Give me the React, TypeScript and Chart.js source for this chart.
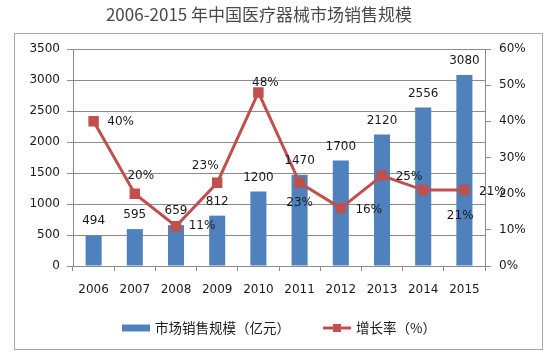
import React, { useEffect, useRef } from "react";
import { Chart, registerables } from "chart.js";

Chart.register(...registerables);

const TITLE = "2006-2015 年中国医疗器械市场销售规模";
const YEARS = ["2006", "2007", "2008", "2009", "2010", "2011", "2012", "2013", "2014", "2015"];
const SALES = [494, 595, 659, 812, 1200, 1470, 1700, 2120, 2556, 3080];
const GROWTH = [40, 20, 11, 23, 48, 23, 16, 25, 21, 21];
const SALES_LABEL = "市场销售规模（亿元）";
const GROWTH_LABEL = "增长率（%）";
const LEFT_MAX = 3500;
const LEFT_STEP = 500;
const RIGHT_MAX = 60;
const RIGHT_STEP = 10;
// label placement relative to each growth point: [dx, dy]
const GROWTH_LABEL_OFFSETS: [number, number][] = [
  [27, 1], [6, -18], [26, 0], [-12, -17], [7, -10],
  [0, 20], [28, 2], [27, 1], [37, 26], [28, 2],
];

const BAR_COLOR = "#4F81BD";
const LINE_COLOR = "#C0504D";
const GRID_COLOR = "#8C8C8C";
const TEXT_COLOR = "#1a1a1a";
const NUM_FONT = "12px 'DejaVu Sans'";
const CJK_FONT = "'Noto Sans CJK SC'";

const decorPlugin = {
  id: "decor",
  beforeDraw(chart: any) {
    const ctx = chart.ctx;
    ctx.save();
    ctx.fillStyle = "#ffffff";
    ctx.fillRect(0, 0, chart.width, chart.height);
    ctx.strokeStyle = "#A6A6A6";
    ctx.lineWidth = 1;
    ctx.strokeRect(14.5, 33.5, 528, 316);
    ctx.fillStyle = "#4a4a4a";
    ctx.font = `400 17px ${CJK_FONT}`;
    ctx.textAlign = "center";
    ctx.textBaseline = "middle";
    ctx.fillText(TITLE, 259, 15);
    ctx.restore();
  },
  afterDatasetsDraw(chart: any) {
    const ctx = chart.ctx;
    ctx.save();
    ctx.fillStyle = TEXT_COLOR;
    ctx.font = NUM_FONT;
    ctx.textAlign = "center";
    ctx.textBaseline = "middle";
    const barMeta = chart.getDatasetMeta(0);
    barMeta.data.forEach((el: any, i: number) => {
      ctx.fillText(String(SALES[i]), el.x, el.y - 14);
    });
    const lineMeta = chart.getDatasetMeta(1);
    lineMeta.data.forEach((el: any, i: number) => {
      const [dx, dy] = GROWTH_LABEL_OFFSETS[i];
      ctx.fillText(GROWTH[i] + "%", el.x + dx, el.y + dy);
    });

    // legend
    const ly = 328;
    ctx.fillStyle = BAR_COLOR;
    ctx.fillRect(122, ly - 3.5, 28, 7);
    ctx.fillStyle = TEXT_COLOR;
    ctx.font = `13.5px ${CJK_FONT}`;
    ctx.textAlign = "left";
    ctx.fillText(SALES_LABEL, 155, ly);
    ctx.strokeStyle = LINE_COLOR;
    ctx.lineWidth = 3;
    ctx.beginPath();
    ctx.moveTo(323, ly);
    ctx.lineTo(351, ly);
    ctx.stroke();
    ctx.fillStyle = LINE_COLOR;
    ctx.fillRect(333, ly - 4, 8, 8);
    ctx.fillStyle = TEXT_COLOR;
    ctx.fillText(GROWTH_LABEL, 356, ly);
    ctx.restore();
  },
};

export default function App() {
  const ref = useRef<HTMLCanvasElement>(null);
  useEffect(() => {
    document.body.style.margin = "0";
    const chart = new Chart(ref.current!, {
      type: "bar",
      data: {
        labels: YEARS,
        datasets: [
          {
            type: "bar",
            label: SALES_LABEL,
            data: SALES,
            backgroundColor: BAR_COLOR,
            borderWidth: 0,
            barPercentage: 0.39,
            categoryPercentage: 1,
            yAxisID: "y",
            order: 1,
          } as any,
          {
            type: "line",
            label: GROWTH_LABEL,
            data: GROWTH,
            borderColor: LINE_COLOR,
            backgroundColor: LINE_COLOR,
            borderWidth: 3,
            pointStyle: "rect",
            pointRadius: 7.4,
            pointBorderWidth: 0,
            pointBackgroundColor: LINE_COLOR,
            tension: 0,
            yAxisID: "y1",
            order: 0,
          } as any,
        ],
      },
      options: {
        responsive: false,
        animation: false,
        layout: { padding: { left: 14, right: 16, top: 49, bottom: 11 } },
        plugins: {
          legend: { display: false },
          title: { display: false },
          tooltip: { enabled: false },
        },
        scales: {
          x: {
            offset: true,
            grid: {
              offset: true,
              drawOnChartArea: false,
              drawTicks: true,
              tickLength: 5,
              color: GRID_COLOR,
            },
            border: { display: true, color: GRID_COLOR },
            ticks: {
              color: TEXT_COLOR,
              font: { family: "DejaVu Sans", size: 12 },
              padding: 12,
              maxRotation: 0,
            },
            afterFit(scale: any) {
              scale.height = 83;
            },
          },
          y: {
            position: "left",
            min: 0,
            max: LEFT_MAX,
            ticks: {
              stepSize: LEFT_STEP,
              color: TEXT_COLOR,
              font: { family: "DejaVu Sans", size: 12 },
              padding: 7,
              callback: (v: any) => String(v),
            },
            grid: { color: GRID_COLOR, tickLength: 6, drawTicks: true },
            border: { display: true, color: GRID_COLOR },
            afterFit(scale: any) {
              scale.width = 59;
            },
          },
          y1: {
            position: "right",
            min: 0,
            max: RIGHT_MAX,
            ticks: {
              stepSize: RIGHT_STEP,
              color: TEXT_COLOR,
              font: { family: "DejaVu Sans", size: 12 },
              padding: 8,
              callback: (v: any) => v + "%",
            },
            grid: { drawOnChartArea: false, color: GRID_COLOR, tickLength: 6, drawTicks: true },
            border: { display: true, color: GRID_COLOR },
            afterFit(scale: any) {
              scale.width = 57;
            },
          },
        },
      },
      plugins: [decorPlugin],
    });
    return () => chart.destroy();
  }, []);
  return (
    <div style={{ width: 558, height: 360 }}>
      <canvas ref={ref} width={558} height={360} />
    </div>
  );
}
